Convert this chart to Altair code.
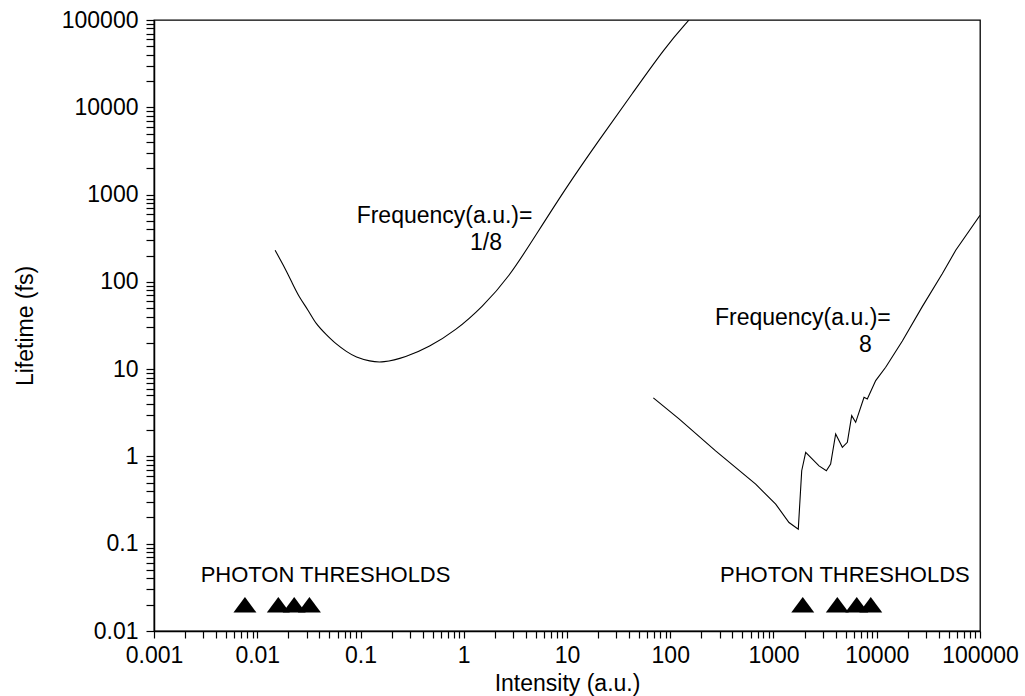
import altair as alt
import pandas as pd

# Curve for frequency 1/8 a.u.
c1_x = [0.0149, 0.01786, 0.02155, 0.0254, 0.0312, 0.0368, 0.0470, 0.0575, 0.0735, 0.0898,
        0.1236, 0.163, 0.274, 0.461, 0.835, 1.51, 2.74, 4.97, 9.7, 20.4, 43, 90, 152]
c1_y = [230, 156, 100, 66.8, 47.6, 33, 24.6, 19.5, 15.8, 13.7,
        12.3, 11.8, 13.7, 17.9, 27.7, 51.3, 113, 340, 1180, 4200, 14400, 49400, 100000]

# Curve for frequency 8 a.u.
c2_x = [68.6, 121.6, 275, 672, 1050, 1413, 1738, 1876, 2050, 2760, 3250, 3575, 4000, 4645,
        5190, 5720, 6250, 7530, 8100, 9770, 12200, 17700, 27600, 43100, 58200, 100000]
c2_y = [4.68, 2.69, 1.16, 0.482, 0.284, 0.175, 0.147, 0.686, 1.11, 0.78, 0.686, 0.818, 1.81, 1.27,
        1.45, 2.93, 2.46, 4.76, 4.56, 7.4, 10.5, 21, 52, 124, 230, 580]

# Photon thresholds (triangles)
thr_x = [0.0076, 0.016, 0.0228, 0.032, 1920, 4150, 6400, 8750]
thr_y = [0.02] * 8

# Annotations
ann_text = ["Frequency(a.u.)=", "1/8", "Frequency(a.u.)=", "8",
            "PHOTON THRESHOLDS", "PHOTON THRESHOLDS"]
ann_x = [0.0918, 1.15, 271, 6730, 0.00283, 303]
ann_y = [472, 232, 32, 15.8, 0.0367, 0.0367]
ann_size = [23, 23, 23, 23, 22, 22]

FONT = "Liberation Sans"

df1 = pd.DataFrame({"x": c1_x, "y": c1_y})
df2 = pd.DataFrame({"x": c2_x, "y": c2_y})
dft = pd.DataFrame({"x": thr_x, "y": thr_y})
dfa = pd.DataFrame({"x": ann_x, "y": ann_y, "t": ann_text, "s": ann_size})

x_ticks = [round(k * 10 ** n, 10) for n in range(-3, 5) for k in range(1, 10)] + [100000]
y_ticks = [round(k * 10 ** n, 10) for n in range(-2, 5) for k in range(1, 10)] + [100000]

label_expr = ("abs(log(datum.value)/LN10 - round(log(datum.value)/LN10)) < 1e-6 ? "
              "(datum.value < 1 ? format(datum.value, '~g') : format(datum.value, 'd')) : ''")

xscale = alt.Scale(type="log", domain=[0.001, 100000], nice=False)
yscale = alt.Scale(type="log", domain=[0.01, 100000], nice=False)

xaxis = alt.Axis(values=x_ticks, labelExpr=label_expr, title="Intensity (a.u.)",
                 tickSize=7, labelPadding=6, grid=False, labelFlush=False, labelOverlap=False,
                 titleY=59, titleBaseline="alphabetic")
yaxis = alt.Axis(values=y_ticks, labelExpr=label_expr, title="Lifetime (fs)",
                 tickSize=8, labelPadding=8, grid=False, labelFlush=False, labelOverlap=False,
                 titleX=-122, titleBaseline="alphabetic", titleAngle=270)

X = alt.X("x:Q", scale=xscale, axis=xaxis)
Y = alt.Y("y:Q", scale=yscale, axis=yaxis)

line1 = alt.Chart(df1).mark_line(color="black", strokeWidth=1.1, clip=True,
                                 interpolate="basis").encode(x=X, y=Y)
line2 = alt.Chart(df2).mark_line(color="black", strokeWidth=1.1, clip=True).encode(x=X, y=Y)
tri = alt.Chart(dft).mark_point(shape="M-1,0.68L0,-0.68L1,0.68Z", filled=True, size=529,
                                color="black", opacity=1, strokeWidth=0).encode(x=X, y=Y)
txt = alt.Chart(dfa).mark_text(align="left", baseline="alphabetic", font=FONT,
                               color="black").encode(
    x=X, y=Y, text="t:N", size=alt.Size("s:Q", scale=None, legend=None))

chart = alt.layer(line1, line2, tri, txt).properties(
    width=826, height=611,
    padding={"left": 154, "top": 20, "right": 45, "bottom": 65},
    autosize=alt.AutoSizeParams(type="none"),
    background="white",
).configure_view(
    stroke="black", strokeWidth=1.3
).configure_axis(
    domainColor="black", domainWidth=1.5, tickColor="black", tickWidth=1.2,
    labelColor="black", titleColor="black", labelFont=FONT, titleFont=FONT,
    labelFontSize=23, titleFontSize=23, titleFontWeight="normal"
)

chart.save("out.html", embed_options={"renderer": "svg", "actions": False})
